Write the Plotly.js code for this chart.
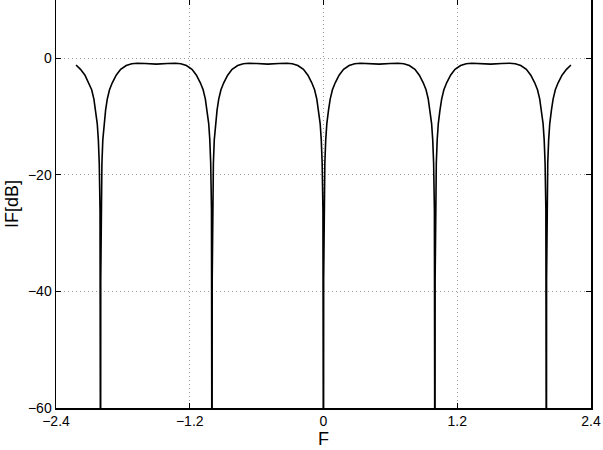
<!DOCTYPE html>
<html>
<head>
<meta charset="utf-8">
<script src="https://cdn.plot.ly/plotly-3.0.1.min.js"></script>
<style>html,body{margin:0;padding:0;background:#fff;}#chart{width:603px;height:450px;}</style>
</head>
<body>
<div id="chart"></div>
<script>
// Frequency axis F (normalised) and magnitude in dB
const F = [
  -2.22, -2.18, -2.14, -2.105, -2.08, -2.06, -2.045, -2.03, -2.02, -2.012, -2.005, -2.0015,
  -2, -1.9985, -1.995, -1.988, -1.98, -1.97, -1.955, -1.94, -1.92, -1.895, -1.86, -1.82, -1.77, -1.72, -1.67, -1.6,
  -1.5, -1.4, -1.33, -1.28, -1.23, -1.18, -1.14, -1.105, -1.08, -1.06, -1.045, -1.03, -1.02, -1.012, -1.005, -1.0015,
  -1, -0.9985, -0.995, -0.988, -0.98, -0.97, -0.955, -0.94, -0.92, -0.895, -0.86, -0.82, -0.77, -0.72, -0.67, -0.6,
  -0.5, -0.4, -0.33, -0.28, -0.23, -0.18, -0.14, -0.105, -0.08, -0.06, -0.045, -0.03, -0.02, -0.012, -0.005, -0.0015,
  0, 0.0015, 0.005, 0.012, 0.02, 0.03, 0.045, 0.06, 0.08, 0.105, 0.14, 0.18, 0.23, 0.28, 0.33, 0.4,
  0.5, 0.6, 0.67, 0.72, 0.77, 0.82, 0.86, 0.895, 0.92, 0.94, 0.955, 0.97, 0.98, 0.988, 0.995, 0.9985,
  1, 1.0015, 1.005, 1.012, 1.02, 1.03, 1.045, 1.06, 1.08, 1.105, 1.14, 1.18, 1.23, 1.28, 1.33, 1.4,
  1.5, 1.6, 1.67, 1.72, 1.77, 1.82, 1.86, 1.895, 1.92, 1.94, 1.955, 1.97, 1.98, 1.988, 1.995, 1.9985,
  2, 2.0015, 2.005, 2.012, 2.02, 2.03, 2.045, 2.06, 2.08, 2.105, 2.14, 2.18, 2.22
];
const magDB = [
  -1.15, -1.9, -2.9, -4.2, -5.4, -7.0, -8.9, -11.2, -14, -18, -26, -38,
  -90, -38, -26, -18, -14, -11.2, -8.9, -7.0, -5.4, -4.2, -2.9, -1.9, -1.25, -0.95, -0.85, -0.9,
  -1.0, -0.9, -0.85, -0.95, -1.25, -1.9, -2.9, -4.2, -5.4, -7.0, -8.9, -11.2, -14, -18, -26, -38,
  -90, -38, -26, -18, -14, -11.2, -8.9, -7.0, -5.4, -4.2, -2.9, -1.9, -1.25, -0.95, -0.85, -0.9,
  -1.0, -0.9, -0.85, -0.95, -1.25, -1.9, -2.9, -4.2, -5.4, -7.0, -8.9, -11.2, -14, -18, -26, -38,
  -90, -38, -26, -18, -14, -11.2, -8.9, -7.0, -5.4, -4.2, -2.9, -1.9, -1.25, -0.95, -0.85, -0.9,
  -1.0, -0.9, -0.85, -0.95, -1.25, -1.9, -2.9, -4.2, -5.4, -7.0, -8.9, -11.2, -14, -18, -26, -38,
  -90, -38, -26, -18, -14, -11.2, -8.9, -7.0, -5.4, -4.2, -2.9, -1.9, -1.25, -0.95, -0.85, -0.9,
  -1.0, -0.9, -0.85, -0.95, -1.25, -1.9, -2.9, -4.2, -5.4, -7.0, -8.9, -11.2, -14, -18, -26, -38,
  -90, -38, -26, -18, -14, -11.2, -8.9, -7.0, -5.4, -4.2, -2.9, -1.9, -1.15
];
const xTicks = [-2.4, -1.2, 0, 1.2, 2.4];
const xTickText = ['\u22122.4', '\u22121.2', '0', '1.2', '2.4'];
const yTicks = [-60, -40, -20, 0];
const yTickText = ['\u221260', '\u221240', '\u221220', '0'];

const FONT = 'Liberation Sans, Arial, Helvetica, sans-serif';
const trace = {
  x: F, y: magDB, type: 'scatter', mode: 'lines',
  line: {color: '#000', width: 1.6},
  hoverinfo: 'none'
};
const axisCommon = {
  showline: true, linecolor: '#000', linewidth: 1.5, mirror: 'ticks',
  ticks: 'inside', ticklen: 5, tickwidth: 1, tickcolor: '#000',
  showgrid: true, gridcolor: '#9a9a9a', gridwidth: 1, griddash: '1px,3px',
  zeroline: false, tickmode: 'array',
  tickfont: {family: FONT, size: 14, color: '#000'}
};
const layout = {
  width: 603, height: 450,
  margin: {l: 56, r: 12, t: 0, b: 42},
  paper_bgcolor: '#fff', plot_bgcolor: '#fff',
  showlegend: false,
  xaxis: Object.assign({}, axisCommon, {
    range: [-2.4, 2.4], tickvals: xTicks, ticktext: xTickText,
    title: {text: 'F', font: {family: FONT, size: 18, color: '#000'}, standoff: 0}
  }),
  yaxis: Object.assign({}, axisCommon, {
    range: [-60, 10], tickvals: yTicks, ticktext: yTickText,
    title: {text: 'IF[dB]', font: {family: FONT, size: 18, color: '#000'}, standoff: 4}
  })
};
Plotly.newPlot('chart', [trace], layout, {displayModeBar: false, staticPlot: true});
</script>
</body>
</html>
